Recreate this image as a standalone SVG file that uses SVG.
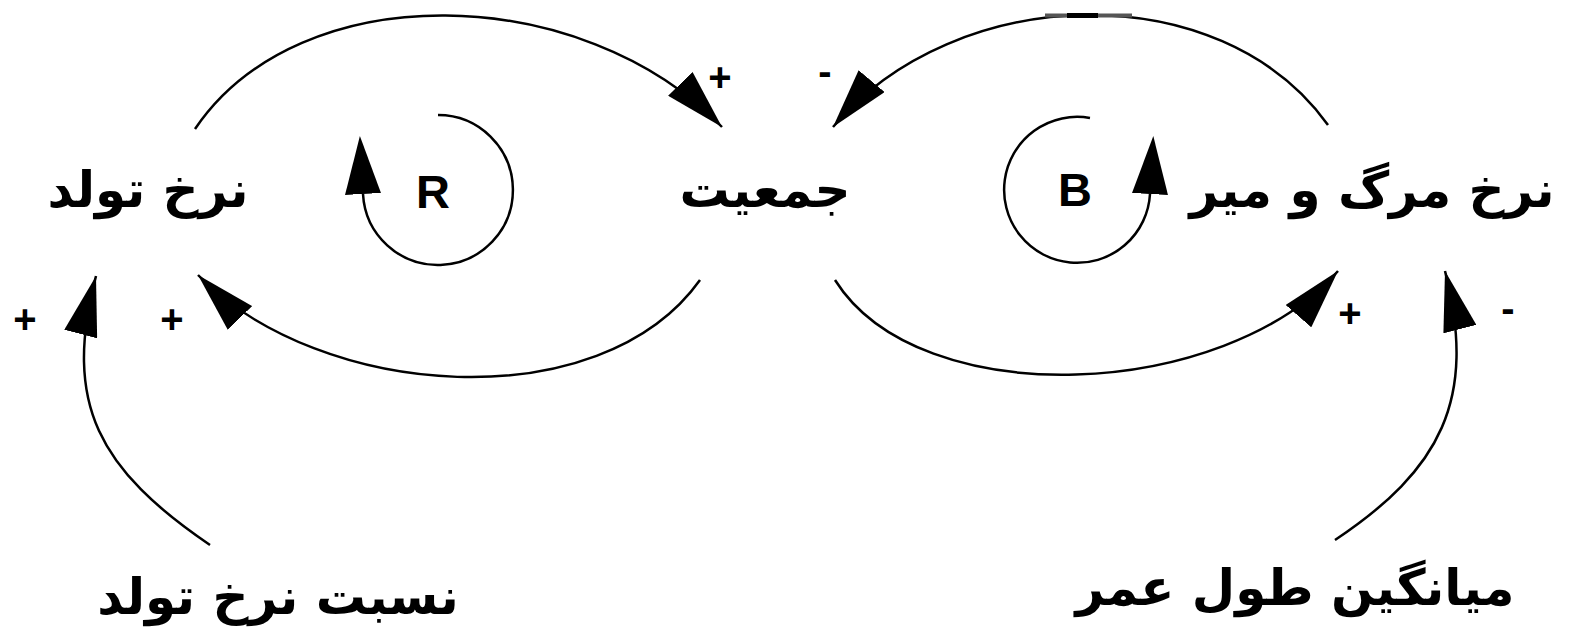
<svg xmlns="http://www.w3.org/2000/svg" width="1574" height="636" viewBox="0 0 1574 636">
<style>
.lnk{fill:none;stroke:#000;stroke-width:2.5}
.lbl{font-family:"DejaVu Sans",sans-serif;font-weight:bold;font-size:50px;text-anchor:middle;fill:#000}
.sgn{font-family:"Liberation Sans",Arial,sans-serif;font-weight:bold;font-size:40px;text-anchor:middle;fill:#000}
.loop{font-family:"Liberation Sans",Arial,sans-serif;font-weight:bold;font-size:47px;text-anchor:middle;fill:#000}
</style>
<defs>
<marker id="ah" markerUnits="userSpaceOnUse" viewBox="0 0 60 34" refX="60" refY="17" markerWidth="60" markerHeight="34" orient="auto">
<path d="M0,0 L60,17 L0,34 Z" fill="#000"/>
</marker>
<marker id="ahb" markerUnits="userSpaceOnUse" viewBox="0 0 58 36" refX="0" refY="18" markerWidth="58" markerHeight="36" orient="auto">
<path d="M0,0 L58,18 L0,36 Z" fill="#000"/>
</marker>
</defs>
<rect width="1574" height="636" fill="#fff"/>
<g id="connectors">
<path class="lnk" d="M195,129 C300,-26 582,-18 722,127" marker-end="url(#ah)"/>
<path class="lnk" d="M1328,125 C1220,-26 955,-18 833,127" marker-end="url(#ah)"/>
<path d="M1045,15.5 H1132" stroke="#555" stroke-width="4" fill="none"/>
<path d="M1067,15.5 H1098" stroke="#000" stroke-width="5" fill="none"/>
<path class="lnk" d="M700,280 C600,420 320,400 198,275" marker-end="url(#ah)"/>
<path class="lnk" d="M835,280 C920,415 1225,400 1338,271" marker-end="url(#ah)"/>
<path class="lnk" d="M210,545 C100,470 62,405 96,276" marker-end="url(#ah)"/>
<path class="lnk" d="M1335,540 C1440,470 1478,400 1445,271" marker-end="url(#ah)"/>
<path class="lnk" d="M438,115 A75,75 0 1 1 363,194" marker-end="url(#ahb)"/>
<path class="lnk" d="M1090,118 A73,73 0 1 0 1150,194" marker-end="url(#ahb)"/>
<text class="sgn" x="720" y="91">+</text>
<text class="sgn" x="825" y="85">-</text>
<text class="sgn" x="25" y="333">+</text>
<text class="sgn" x="172" y="333">+</text>
<text class="sgn" x="1350" y="327">+</text>
<text class="sgn" x="1508" y="322">-</text>
<text class="loop" x="433" y="208">R</text>
<text class="loop" x="1075" y="206">B</text>
</g>
<g id="birth-rate"><text class="lbl" x="148" y="207">نرخ تولد</text></g>
<g id="population"><text class="lbl" x="765" y="207">جمعیت</text></g>
<g id="death-rate"><text class="lbl" x="1372" y="207">نرخ مرگ و میر</text></g>
<g id="birth-rate-ratio"><text class="lbl" x="278" y="614">نسبت نرخ تولد</text></g>
<g id="life-expectancy"><text class="lbl" x="1295" y="605">میانگین طول عمر</text></g>
</svg>
